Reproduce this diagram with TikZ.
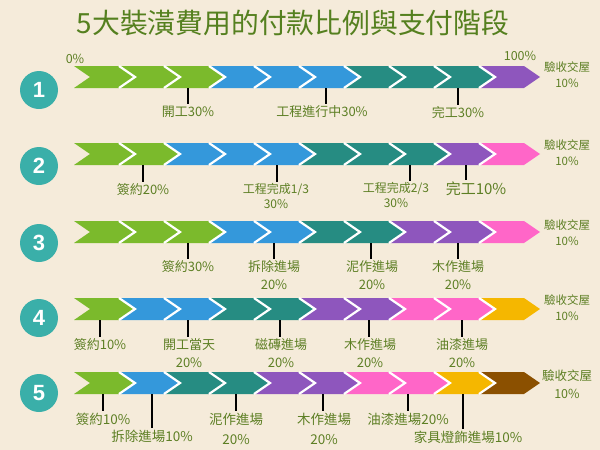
\documentclass[tikz,border=0pt]{standalone}
\usepackage{fontspec}
\usepackage{tikz}
\usetikzlibrary{positioning}
\newfontfamily\cjk{Noto Sans CJK TC}
\newfontfamily\numfont{Liberation Sans}

\definecolor{bgcream}{HTML}{F5EBDA}
\definecolor{grn}{HTML}{7BBA2C}
\definecolor{blu}{HTML}{3498DB}
\definecolor{tea}{HTML}{268C82}
\definecolor{pur}{HTML}{8E56BD}
\definecolor{pnk}{HTML}{FF66C8}
\definecolor{yel}{HTML}{F5B700}
\definecolor{brn}{HTML}{8B5000}
\definecolor{badgeteal}{HTML}{3AAFA9}
\definecolor{titlegreen}{HTML}{55801F}
\definecolor{lblgreen}{HTML}{5D7F24}

\tikzset{
  gap/.style={white,line width=2.2pt},
  badge/.style={circle,fill=badgeteal,minimum size=38pt,inner sep=0pt,text=white,
    font=\numfont\bfseries\fontsize{22}{22}\selectfont},
  lbl/.style={anchor=north,align=center,inner sep=1.5pt,text=lblgreen,
    font=\cjk\fontsize{13}{18}\selectfont},
  lblsmall/.style={font=\cjk\fontsize{12}{15}\selectfont},
  lblbig/.style={font=\cjk\fontsize{15}{18}\selectfont},
  lblwide/.style={font=\cjk\fontsize{13.5}{20}\selectfont},
  endlbl/.style={align=center,inner sep=0pt,text=lblgreen,
    font=\cjk\fontsize{11.5}{16}\selectfont},
  tick/.style={black,line width=1.6pt},
}

% one row of chevrons, #1 = middle y, #2 = colours
\newcommand{\chevrow}[2]{%
  \foreach \c [count=\i from 0] in {#2} {
    \begin{scope}[shift={({74+45*\i},#1)}]
      \fill[\c] (0,-11) -- (45,-11) -- (61,0) -- (45,11) -- (0,11) -- (16,0) -- cycle;
      \ifnum\i>0 \draw[gap] (0,-11) -- (16,0) -- (0,11); \fi
    \end{scope}
  }%
}

\begin{document}
\begin{tikzpicture}[x=1pt,y=-1pt]
  \useasboundingbox (0,0) rectangle (600,450);
  \fill[bgcream] (0,0) rectangle (600,450);

  % title
  \node[text=titlegreen,font=\cjk\fontsize{27.8}{28}\selectfont] (ttl) at (293,23)
    {5大裝潢費用的付款比例與支付階段};

  % chevron rows
  \chevrow{77}{grn,grn,grn,blu,blu,blu,tea,tea,tea,pur}
  \chevrow{154}{grn,grn,blu,blu,blu,tea,tea,tea,pur,pnk}
  \chevrow{232}{grn,grn,grn,blu,blu,tea,tea,pur,pur,pnk}
  \chevrow{309}{grn,blu,blu,tea,tea,pur,pur,pnk,pnk,yel}
  \chevrow{383}{grn,blu,tea,tea,pur,pur,pnk,pnk,yel,brn}

  % numbered badges
  \foreach \n/\y in {1/90,2/166,3/243,4/318,5/393}
    \node[badge] (b\n) at (39,\y) {\n};

  % end labels
  \node[endlbl] (e1) at (567,75) {驗收交屋\\10\%};
  \node[endlbl] (e2) at (567,153) {驗收交屋\\10\%};
  \node[endlbl] (e3) at (567,233) {驗收交屋\\10\%};
  \node[endlbl] (e4) at (567,308) {驗收交屋\\10\%};
  \node[endlbl,font=\cjk\fontsize{12.5}{18}\selectfont] (e5) at (567,384) {驗收交屋\\10\%};

  % row 1
  \node[endlbl,font=\cjk\fontsize{12.5}{15}\selectfont] (p0) at (75,59) {0\%};
  \node[endlbl,font=\cjk\fontsize{12.5}{15}\selectfont] (p100) at (520,56) {100\%};
  \coordinate (t1a) at (188,88);
  \coordinate (t1b) at (326,88);
  \coordinate (t1c) at (458,88);
  \node[lbl] (l1a) at (188,104) {開工30\%};
  \node[lbl] (l1b) at (322,104) {工程進行中30\%};
  \node[lbl] (l1c) at (458,105) {完工30\%};
  \draw[tick] (t1a) -- (l1a.north);
  \draw[tick] (t1b) -- (t1b |- l1b.north);
  \draw[tick] (t1c) -- (l1c.north);

  % row 2
  \coordinate (t2a) at (143,165);
  \coordinate (t2b) at (277,165);
  \coordinate (t2c) at (410,165);
  \coordinate (t2d) at (466,165);
  \node[lbl] (l2a) at (143,182) {簽約20\%};
  \node[lbl,lblsmall] (l2b) at (276,182) {工程完成1/3\\30\%};
  \node[lbl,lblsmall] (l2c) at (396,181) {工程完成2/3\\30\%};
  \node[lbl,lblbig] (l2d) at (476,180) {完工10\%};
  \draw[tick] (t2a) -- (l2a.north);
  \draw[tick] (t2b) -- (t2b |- l2b.north);
  \draw[tick] (t2c) -- (t2c |- l2c.north);
  \draw[tick] (t2d) -- (t2d |- l2d.north);

  % row 3
  \coordinate (t3a) at (188,243);
  \coordinate (t3b) at (274,243);
  \coordinate (t3c) at (371,243);
  \coordinate (t3d) at (458,243);
  \node[lbl] (l3a) at (188,259) {簽約30\%};
  \node[lbl] (l3b) at (274,259) {拆除進場\\20\%};
  \node[lbl] (l3c) at (372,259) {泥作進場\\20\%};
  \node[lbl] (l3d) at (458,259) {木作進場\\20\%};
  \draw[tick] (t3a) -- (l3a.north);
  \draw[tick] (t3b) -- (l3b.north);
  \draw[tick] (t3c) -- (t3c |- l3c.north);
  \draw[tick] (t3d) -- (l3d.north);

  % row 4
  \coordinate (t4a) at (100,320);
  \coordinate (t4b) at (188,320);
  \coordinate (t4c) at (280,320);
  \coordinate (t4d) at (369,320);
  \coordinate (t4e) at (462,320);
  \node[lbl] (l4a) at (100,337) {簽約10\%};
  \node[lbl] (l4b) at (189,337) {開工當天\\20\%};
  \node[lbl] (l4c) at (281,337) {磁磚進場\\20\%};
  \node[lbl] (l4d) at (370,337) {木作進場\\20\%};
  \node[lbl] (l4e) at (462,337) {油漆進場\\20\%};
  \draw[tick] (t4a) -- (l4a.north);
  \draw[tick] (t4b) -- (t4b |- l4b.north);
  \draw[tick] (t4c) -- (t4c |- l4c.north);
  \draw[tick] (t4d) -- (t4d |- l4d.north);
  \draw[tick] (t4e) -- (l4e.north);

  % row 5
  \coordinate (t5a) at (103,394);
  \coordinate (t5b) at (152,394);
  \coordinate (t5c) at (236,394);
  \coordinate (t5d) at (323,394);
  \coordinate (t5e) at (408,394);
  \coordinate (t5f) at (463,394);
  \node[lbl,lblwide] (l5a) at (103,411) {簽約10\%};
  \node[lbl,lblwide] (l5b) at (152,428) {拆除進場10\%};
  \node[lbl,lblwide] (l5c) at (236,411) {泥作進場\\20\%};
  \node[lbl,lblwide] (l5d) at (324,411) {木作進場\\20\%};
  \node[lbl,lblwide] (l5e) at (408,411) {油漆進場20\%};
  \node[lbl,lblwide] (l5f) at (468,429) {家具燈飾進場10\%};
  \draw[tick] (t5a) -- (l5a.north);
  \draw[tick] (t5b) -- (l5b.north);
  \draw[tick] (t5c) -- (l5c.north);
  \draw[tick] (t5d) -- (t5d |- l5d.north);
  \draw[tick] (t5e) -- (l5e.north);
  \draw[tick] (t5f) -- (t5f |- l5f.north);
\end{tikzpicture}
\end{document}
